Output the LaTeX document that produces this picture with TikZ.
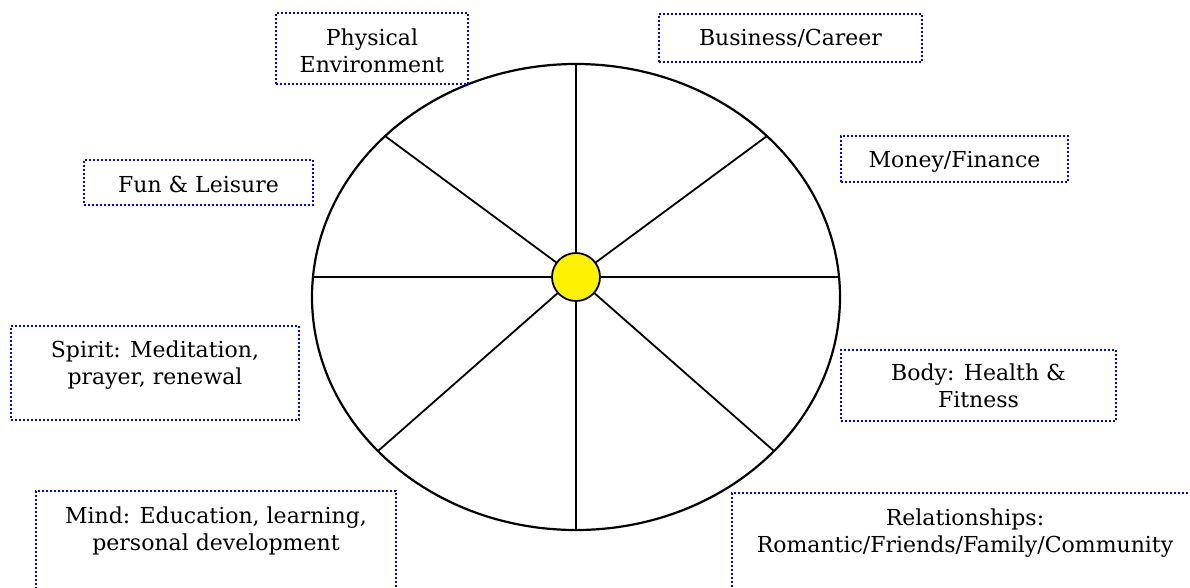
\documentclass[tikz,border=0pt]{standalone}
\usepackage{fontspec}
\setmainfont{DejaVu Serif}
\usetikzlibrary{calc}
\tikzset{
  areabox/.style={draw=blue, line width=2pt, dash pattern=on 2pt off 2pt, anchor=north west, inner sep=0pt},
  areatext/.style={align=center, anchor=base, inner sep=0pt, font=\fontsize{22}{27}\selectfont},
  rim/.style={line width=2.2pt},
  spoke/.style={line width=1.8pt},
  hubdisc/.style={circle, draw, fill=yellow, line width=1.8pt, minimum size=48pt, inner sep=0pt}
}
\begin{document}
\begin{tikzpicture}[x=1pt,y=-1pt]
\useasboundingbox (0,0) rectangle (1190,587);
\clip (0,0) rectangle (1190,587);
% wheel
\draw[rim] (576,297) ellipse [x radius=264, y radius=233];
\coordinate (axle) at (576,277);
\coordinate (n) at (576,64);
\coordinate (s) at (576,530);
\coordinate (w) at (313,277);
\coordinate (e) at (839,277);
\coordinate (nw) at (385,136);
\coordinate (ne) at (767,136);
\coordinate (sw) at (378,451);
\coordinate (se) at (774,451);
\foreach \p in {n,s,w,e,nw,ne,sw,se}
  \draw[spoke] (axle) -- (\p);
\node[hubdisc] (hub) at (axle) {};
% life areas (base of a two-line node is its last line)
\node[areabox, minimum width=192pt, minimum height=71pt] (physbox) at (275,12) {};
\node[areatext] (phystext) at ($(physbox.north)+(0,60)$) {Physical\\Environment};
\node[areabox, minimum width=263pt, minimum height=48pt] (bizbox) at (658,13) {};
\node[areatext] (biztext) at ($(bizbox.north)+(0,32)$) {Business/Career};
\node[areabox, minimum width=229pt, minimum height=45pt] (funbox) at (83,159) {};
\node[areatext] (funtext) at ($(funbox.north)+(0,33)$) {Fun \& Leisure};
\node[areabox, minimum width=227pt, minimum height=46pt] (moneybox) at (840,135) {};
\node[areatext] (moneytext) at ($(moneybox.north)+(0,32)$) {Money/Finance};
\node[areabox, minimum width=288pt, minimum height=94pt] (spiritbox) at (10,325) {};
\node[areatext] (spirittext) at ($(spiritbox.north)+(0,59)$) {Spirit: Meditation,\\prayer, renewal};
\node[areabox, minimum width=275pt, minimum height=71pt] (bodybox) at (840,349) {};
\node[areatext] (bodytext) at ($(bodybox.north)+(0,58)$) {Body: Health \&\\Fitness};
\node[areabox, minimum width=360pt, minimum height=120pt] (mindbox) at (35,490) {};
\node[areatext] (mindtext) at ($(mindbox.north)+(0,60)$) {Mind: Education, learning,\\personal development};
\node[areabox, minimum width=466pt, minimum height=120pt] (relbox) at (731,492) {};
\node[areatext] (reltext) at ($(relbox.north)+(0,60)$) {Relationships:\\Romantic/Friends/Family/Community};
\end{tikzpicture}
\end{document}
